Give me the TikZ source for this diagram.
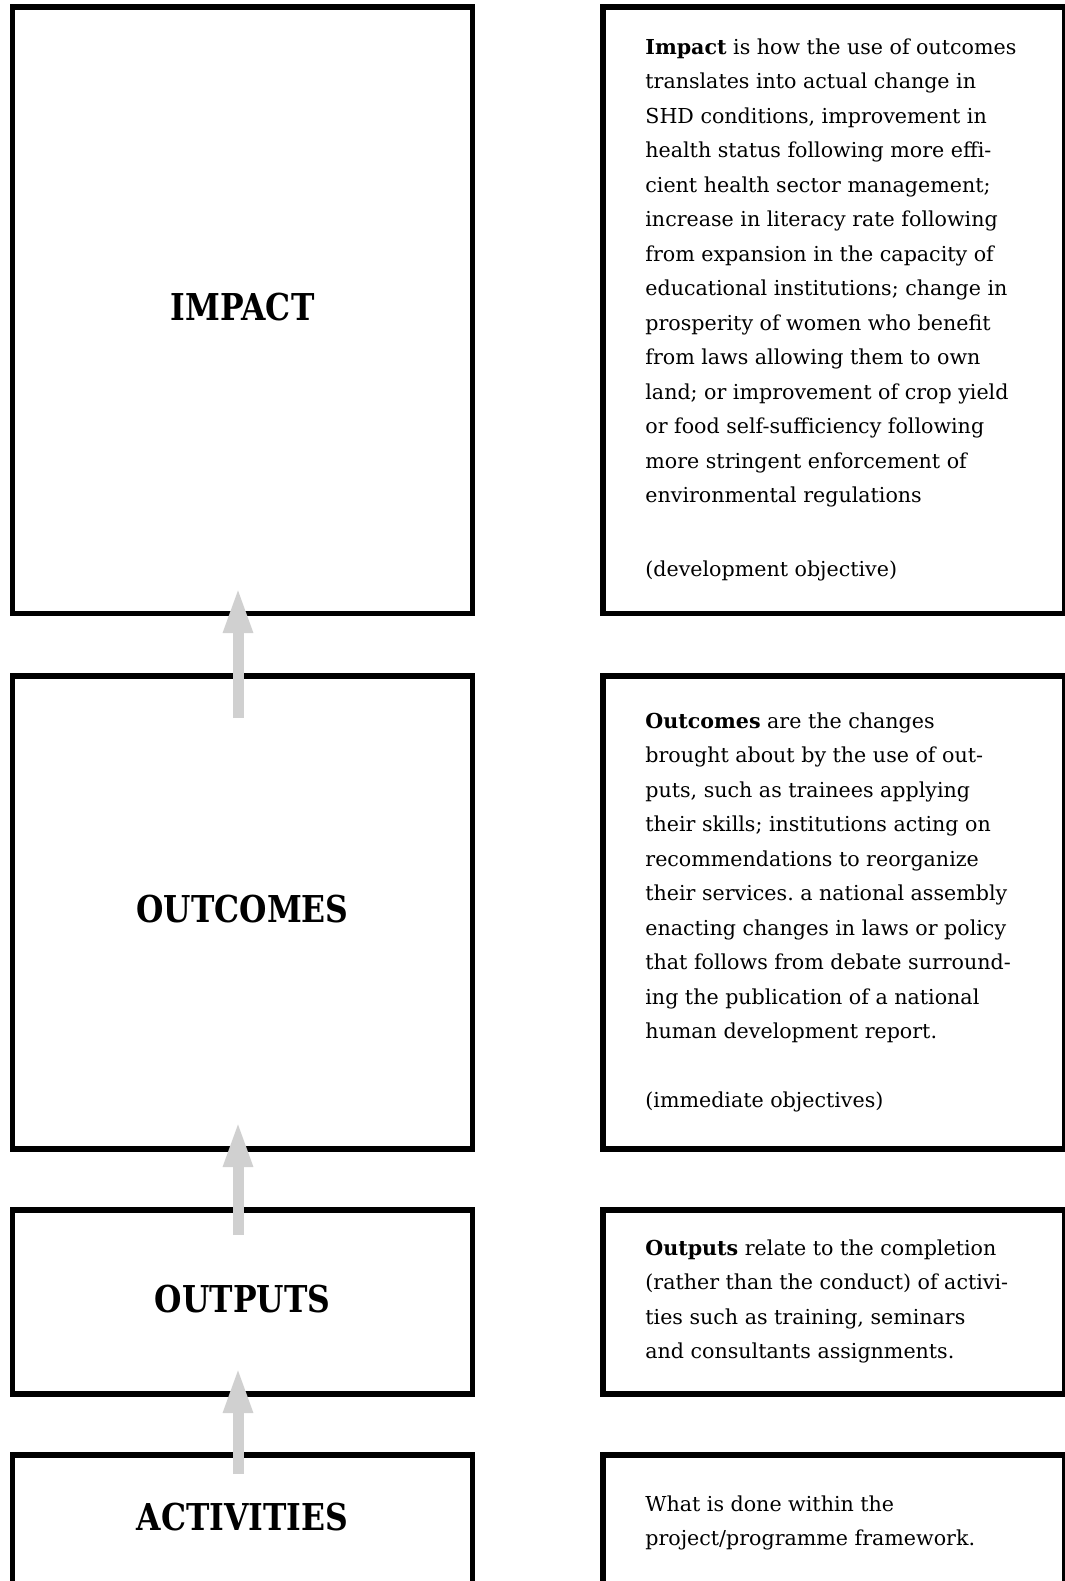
\documentclass[tikz,border=0pt]{standalone}
\usepackage{fontspec}
\setmainfont{DejaVu Serif}
\newfontfamily\headfont{DejaVu Serif}[FakeStretch=0.85]
\usetikzlibrary{arrows.meta}
\definecolor{arrowgrey}{RGB}{208,208,208}
\newcommand{\blurb}[1]{\vtop{\hsize=210pt\parindent=0pt\raggedright\frenchspacing\fontsize{10.3pt}{17.25pt}\selectfont #1}}
\tikzset{
	titlebox/.style={draw, line width=2.75pt, outer sep=0pt, minimum width=230pt, text depth=3.5pt, font=\headfont\bfseries\fontsize{18.5pt}{22pt}\selectfont},
	descbox/.style={draw, line width=2.75pt, outer sep=0pt, minimum width=230.75pt},
	desctext/.style={anchor=base west, inner sep=0pt},
	uparrow/.style={draw=arrowgrey, line width=5.5pt, -{Triangle[width=13.5pt,length=23pt]}}
}

\begin{document}
\begin{tikzpicture}[x=0.5pt,y=-0.5pt]
		%%%%% START %%%%%
		\useasboundingbox (0,0) rectangle (1065,1581);
		\clip (0,0) rectangle (1065,1581);
		
		% left column
		\node[titlebox, minimum height=303.25pt] (impact) at (242.5,310.25) {IMPACT};
		\node[titlebox, minimum height=236.5pt] (outcomes) at (242.5,912.5) {OUTCOMES};
		\node[titlebox, minimum height=92pt] (outputs) at (242.5,1302) {OUTPUTS};
		\node[titlebox, minimum height=65.5pt] (activities) at (242.5,1520.5) {ACTIVITIES};
		
		% right column
		\node[descbox, minimum height=303.25pt] (impactdesc) at (833.75,310.25) {};
		\node[descbox, minimum height=236.5pt] (outcomesdesc) at (833.75,912.5) {};
		\node[descbox, minimum height=92pt] (outputsdesc) at (833.75,1302) {};
		\node[descbox, minimum height=65.5pt] (activitiesdesc) at (833.75,1520.5) {};
		
		\node[desctext] (impacttext) at (645,54) {\blurb{\textbf{Impact} is how the use of outcomes\\
			translates into actual change in\\
			SHD conditions, improvement in\\
			health status following more effi-\\
			cient health sector management;\\
			increase in literacy rate following\\
			from expansion in the capacity of\\
			educational institutions; change in\\
			prosperity of women who benefit\\
			from laws allowing them to own\\
			land; or improvement of crop yield\\
			or food self-sufficiency following\\
			more stringent enforcement of\\
			environmental regulations\\[19.5pt]
			(development objective)}};
		
		\node[desctext] (outcomestext) at (645,728) {\blurb{\textbf{Outcomes} are the changes\\
			brought about by the use of out-\\
			puts, such as trainees applying\\
			their skills; institutions acting on\\
			recommendations to reorganize\\
			their services. a national assembly\\
			enacting changes in laws or policy\\
			that follows from debate surround-\\
			ing the publication of a national\\
			human development report.\\[17.25pt]
			(immediate objectives)}};
		
		\node[desctext] (outputstext) at (645,1255) {\blurb{\textbf{Outputs} relate to the completion\\
			(rather than the conduct) of activi-\\
			ties such as training, seminars\\
			and consultants assignments.}};
		
		\node[desctext] (activitiestext) at (645,1511) {\blurb{What is done within the\\
			project/programme framework.}};
		
		% arrows on top
		\draw[uparrow] ([xshift=-2.25pt,yshift=-21pt]outcomes.north) -- ([xshift=-2.25pt,yshift=13.25pt]impact.south);
		\draw[uparrow] ([xshift=-2.25pt,yshift=-12.5pt]outputs.north) -- ([xshift=-2.25pt,yshift=14pt]outcomes.south);
		\draw[uparrow] ([xshift=-2.25pt,yshift=-9.5pt]activities.north) -- ([xshift=-2.25pt,yshift=13.5pt]outputs.south);
		
		%%%%% END %%%%%
\end{tikzpicture}
\end{document}
